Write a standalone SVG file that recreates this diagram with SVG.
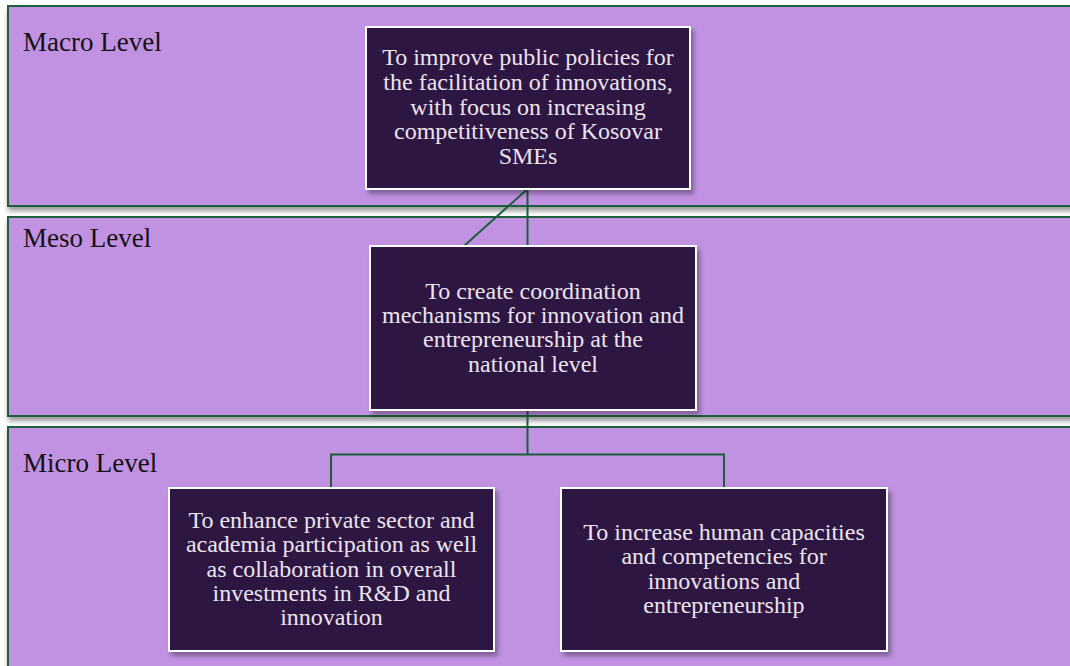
<svg xmlns="http://www.w3.org/2000/svg" width="1070" height="666" viewBox="0 0 1070 666">
<defs>
<filter id="sh" x="-10%" y="-10%" width="130%" height="140%">
<feDropShadow dx="3" dy="4" stdDeviation="2.5" flood-color="#000" flood-opacity="0.35"/>
</filter>
<filter id="bsh" x="-5%" y="-10%" width="110%" height="130%">
<feDropShadow dx="1" dy="4" stdDeviation="2.5" flood-color="#000" flood-opacity="0.4"/>
</filter>
</defs>
<style>
.band{fill:#c192e2;stroke:#1b5e3b;stroke-width:2}
.box{fill:#2e1243;stroke:#ffffff;stroke-width:2}
.lbl{font-family:"Liberation Serif",serif;font-size:27px;fill:#141014}
.t{font-family:"Liberation Serif",serif;font-size:24px;fill:#ece4ee;text-anchor:middle}
.c{fill:none;stroke:#1b5e3b;stroke-width:2}
</style>
<rect width="1070" height="666" fill="#ffffff"/>
<g id="band-macro">
<rect class="band" x="8" y="6" width="1075" height="200" filter="url(#bsh)"/>
<text class="lbl" x="23" y="51">Macro Level</text>
</g>
<g id="band-meso">
<rect class="band" x="8" y="217" width="1075" height="199" filter="url(#bsh)"/>
<text class="lbl" x="23" y="247">Meso Level</text>
</g>
<g id="band-micro">
<rect class="band" x="8" y="427" width="1075" height="260" filter="url(#bsh)"/>
<text class="lbl" x="23" y="472">Micro Level</text>
</g>
<g id="connectors">
<path class="c" d="M527.5 189 V246"/>
<path class="c" d="M527.5 189 L464 246"/>
<path class="c" d="M527.5 410 V454.5 M331 488 V454.5 H724 V488"/>
</g>
<g id="node-macro">
<rect class="box" x="366" y="27" width="324" height="162" filter="url(#sh)"/>
<text class="t" x="528" y="65">To improve public policies for</text>
<text class="t" x="528" y="90">the facilitation of innovations,</text>
<text class="t" x="528" y="114.5">with focus on increasing</text>
<text class="t" x="528" y="139">competitiveness of Kosovar</text>
<text class="t" x="528" y="163.5">SMEs</text>
</g>
<g id="node-meso">
<rect class="box" x="370" y="246" width="326" height="164" filter="url(#sh)"/>
<text class="t" x="533" y="298.5">To create coordination</text>
<text class="t" x="533" y="323">mechanisms for innovation and</text>
<text class="t" x="533" y="347">entrepreneurship at the</text>
<text class="t" x="533" y="371.5">national level</text>
</g>
<g id="node-micro-left">
<rect class="box" x="169" y="488" width="325" height="163" filter="url(#sh)"/>
<text class="t" x="331.5" y="527.5">To enhance private sector and</text>
<text class="t" x="331.5" y="552">academia participation as well</text>
<text class="t" x="331.5" y="576.5">as collaboration in overall</text>
<text class="t" x="331.5" y="601">investments in R&amp;D and</text>
<text class="t" x="331.5" y="625">innovation</text>
</g>
<g id="node-micro-right">
<rect class="box" x="561" y="488" width="326" height="163" filter="url(#sh)"/>
<text class="t" x="724" y="539.5">To increase human capacities</text>
<text class="t" x="724" y="564">and competencies for</text>
<text class="t" x="724" y="588.5">innovations and</text>
<text class="t" x="724" y="613">entrepreneurship</text>
</g>
</svg>
